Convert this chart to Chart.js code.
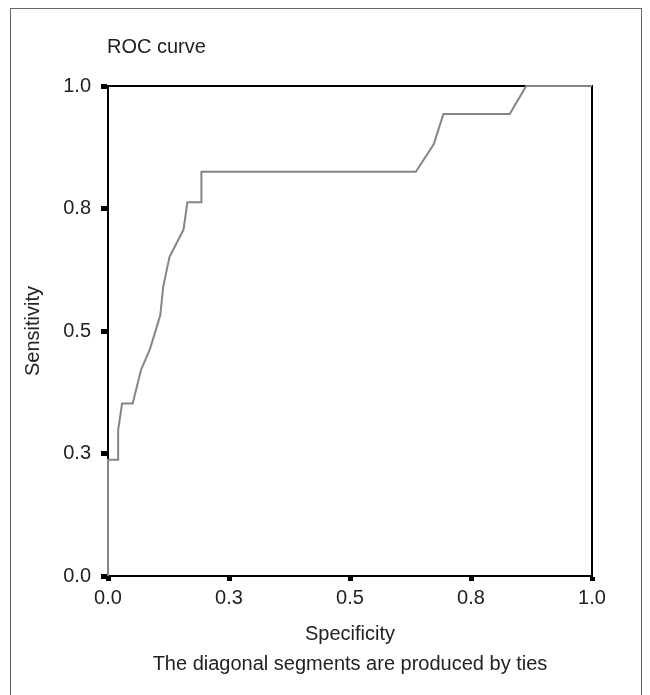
<!DOCTYPE html>
<html>
<head>
<meta charset="utf-8">
<script src="https://cdn.jsdelivr.net/npm/chart.js@4/dist/chart.umd.min.js"></script>
<style>
  html, body { margin: 0; padding: 0; background: #fff; }
  #wrap { width: 650px; height: 695px; }
</style>
</head>
<body>
<div id="wrap"><canvas id="roc" width="650" height="695"></canvas></div>
<script>
// ROC curve points (x = "Specificity" axis, y = sensitivity)
var specX = [0, 0, 0.021, 0.021, 0.029, 0.051, 0.068, 0.087, 0.108, 0.114, 0.127, 0.156, 0.164, 0.193, 0.193, 0.636, 0.673, 0.693, 0.830, 0.864, 1];
var sensY = [0, 0.237, 0.237, 0.298, 0.352, 0.352, 0.420, 0.464, 0.532, 0.590, 0.651, 0.707, 0.763, 0.763, 0.825, 0.825, 0.881, 0.943, 0.943, 1, 1];
var tickValues = [0, 0.25, 0.5, 0.75, 1];

var fontFamily = "'Liberation Sans', Arial, sans-serif";
var textColor = '#222';

var points = specX.map(function(x, i) {
    return { x: x, y: sensY[i] };
});

// outer frame, caption and the box round the plot
var framePlugin = {
    id: 'frame',
    beforeDraw: function(chart) {
        var ctx = chart.ctx;
        ctx.save();
        ctx.fillStyle = '#fff';
        ctx.fillRect(0, 0, chart.width, chart.height);
        ctx.strokeStyle = '#666';
        ctx.lineWidth = 1;
        ctx.strokeRect(10.5, 8.5, 631, 700);
        ctx.fillStyle = textColor;
        ctx.font = '20px ' + fontFamily;
        ctx.textBaseline = 'middle';
        ctx.textAlign = 'left';
        ctx.fillText('ROC curve', 107, 47);
        ctx.restore();
    },
    beforeDatasetsDraw: function(chart) {
        var a = chart.chartArea;
        var ctx = chart.ctx;
        ctx.save();
        ctx.strokeStyle = '#000';
        ctx.lineWidth = 2;
        ctx.strokeRect(a.left, a.top, a.right - a.left, a.bottom - a.top);
        ctx.restore();
    }
};

new Chart(document.getElementById('roc'), {
    type: 'scatter',
    data: {
        datasets: [{
            data: points,
            showLine: true,
            borderColor: '#858585',
            borderWidth: 2,
            pointRadius: 0,
            tension: 0,
            clip: false
        }]
    },
    options: {
        responsive: false,
        animation: false,
        layout: {
            padding: { left: 0, top: 86, right: 58, bottom: 0 }
        },
        plugins: {
            legend: { display: false },
            tooltip: { enabled: false }
        },
        scales: {
            x: {
                type: 'linear',
                min: 0,
                max: 1,
                afterBuildTicks: function(scale) {
                    scale.ticks = tickValues.map(function(v) { return { value: v }; });
                },
                afterFit: function(scale) { scale.height = 119; },
                grid: { drawOnChartArea: false, tickLength: 5, tickWidth: 5, tickColor: '#000' },
                border: { display: true, color: '#000', width: 2 },
                ticks: {
                    padding: 5,
                    color: textColor,
                    font: { family: fontFamily, size: 20 },
                    callback: function(v) { return v.toFixed(1); }
                },
                title: {
                    display: true,
                    text: ['Specificity', 'The diagonal segments are produced by ties'],
                    color: textColor,
                    font: { family: fontFamily, size: 20, lineHeight: '30px' },
                    padding: { top: 0, bottom: 16 }
                }
            },
            y: {
                type: 'linear',
                min: 0,
                max: 1,
                afterBuildTicks: function(scale) {
                    scale.ticks = tickValues.map(function(v) { return { value: v }; });
                },
                afterFit: function(scale) { scale.width = 108; },
                grid: { drawOnChartArea: false, tickLength: 7, tickWidth: 5, tickColor: '#000' },
                border: { display: true, color: '#000', width: 2 },
                ticks: {
                    padding: 10,
                    color: textColor,
                    font: { family: fontFamily, size: 20 },
                    callback: function(v) { return v.toFixed(1); }
                },
                title: {
                    display: true,
                    text: 'Sensitivity',
                    color: textColor,
                    font: { family: fontFamily, size: 20, lineHeight: 1.2 },
                    padding: { top: 21, bottom: 0 }
                }
            }
        }
    },
    plugins: [framePlugin]
});
</script>
</body>
</html>
